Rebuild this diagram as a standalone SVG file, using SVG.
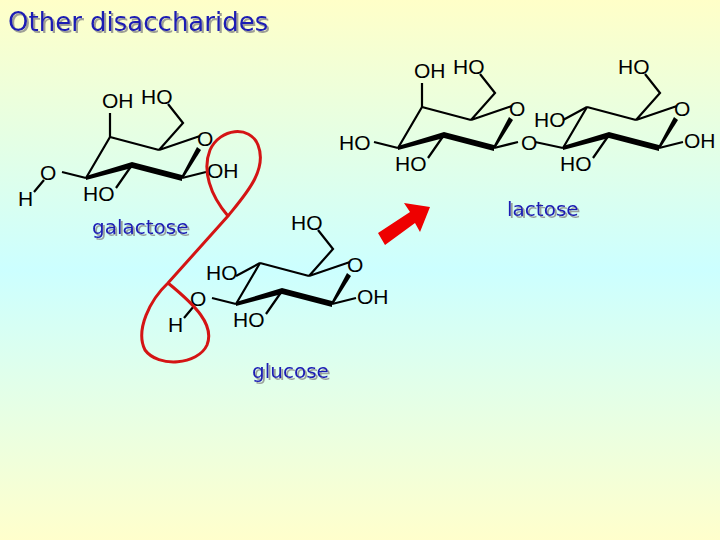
<svg xmlns="http://www.w3.org/2000/svg" width="720" height="540" viewBox="0 0 720 540">
<defs>
<linearGradient id="bg" x1="0" y1="0" x2="0" y2="1">
<stop offset="0" stop-color="#ffffc8"/><stop offset="0.5" stop-color="#ccffff"/><stop offset="1" stop-color="#ffffcc"/>
</linearGradient>
<filter id="sh" x="-5%" y="-20%" width="115%" height="150%">
<feDropShadow dx="2" dy="2" stdDeviation="0.6" flood-color="#888" flood-opacity="0.8"/>
</filter>
<g id="ring">
<path d="M110,137 L159,150 M86,178 L110,137 M159,150 L183,123 L168,104 M159,150 L200,136 M132,165 L116,188" stroke="#000" stroke-width="2.2" fill="none"/>
<polygon points="86,176 132,162 182,175 182,181 132,168 86,180" fill="#000"/>
<polygon points="180,179 184,177 201,150 197,147" fill="#000"/>
<text x="197" y="146" class="a">O</text>
<text x="83" y="201" class="a">HO</text>
</g>
</defs>
<style>
.a{font-family:"Liberation Sans",Arial,sans-serif;font-size:21px;fill:#000}
.l{font-family:"DejaVu Sans",sans-serif;font-size:20px;fill:#1a1ab4;filter:url(#sh)}
</style>
<rect width="720" height="540" fill="url(#bg)"/>
<text x="8" y="31" class="l" style="font-size:26px">Other disaccharides</text>
<g id="galactose">
<use href="#ring"/>
<path d="M110,137 L110,113 M86,178 L62,172 M44,180 L34,192 M182,178 L206,172" stroke="#000" stroke-width="2.2"/>
<text x="102" y="108" class="a">OH</text>
<text x="141" y="104" class="a">HO</text>
<text x="40" y="180" class="a">O</text>
<text x="18" y="206" class="a">H</text>
<text x="207" y="178" class="a">OH</text>
<text x="92" y="234" class="l">galactose</text>
</g>
<g id="glucose" transform="translate(150,126)">
<use href="#ring"/>
<path d="M110,137 L86,150 M86,178 L62,172 M44,180 L34,192 M182,178 L206,172" stroke="#000" stroke-width="2.2"/>
<text x="56" y="154" class="a">HO</text>
<text x="141" y="104" class="a">HO</text>
<text x="40" y="180" class="a">O</text>
<text x="18" y="206" class="a">H</text>
<text x="207" y="178" class="a">OH</text>
</g>
<text x="252" y="378" class="l">glucose</text>
<g id="lactose">
<g transform="translate(312,-30)">
<use href="#ring"/>
<path d="M110,137 L110,113 M86,178 L62,172 M182,178 L206,172" stroke="#000" stroke-width="2.2"/>
<text x="102" y="108" class="a">OH</text>
<text x="141" y="104" class="a">HO</text>
<text x="27" y="180" class="a">HO</text>
</g>
<g transform="translate(477,-30)">
<use href="#ring"/>
<path d="M110,137 L86,150 M86,178 L58,172 M182,178 L206,172" stroke="#000" stroke-width="2.2"/>
<text x="57" y="157" class="a">HO</text>
<text x="141" y="104" class="a">HO</text>
<text x="44" y="180" class="a">O</text>
<text x="207" y="178" class="a">OH</text>
</g>
<text x="507" y="216" class="l">lactose</text>
</g>
<g id="connectors">
<path d="M228,216 C245,195 268,170 258,145 C250,125 220,128 210,150 C202,170 210,195 228,216 L168,283 C150,300 135,330 145,350 C158,368 198,365 207,345 C215,325 195,305 168,283" fill="none" stroke="#d41414" stroke-width="3"/>
<polygon points="378,233 410,212 404,203 430,207 420,232 415,223 385,245" fill="#ee0000"/>
</g>
</svg>
